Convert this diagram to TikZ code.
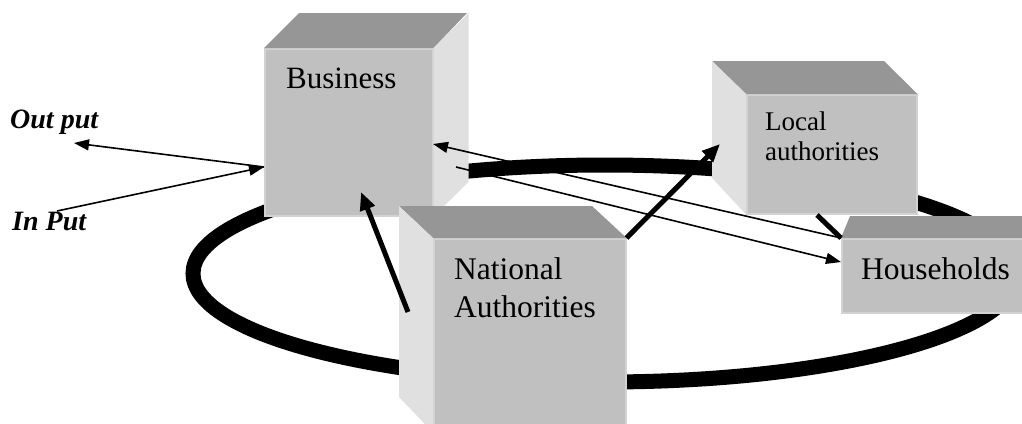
\documentclass[tikz,border=0pt]{standalone}
\usepackage{fontspec}
\setmainfont{Liberation Serif}
\usetikzlibrary{arrows.meta,calc}
\definecolor{faceF}{RGB}{192,192,192}
\definecolor{faceT}{RGB}{150,150,150}
\definecolor{faceS}{RGB}{224,224,224}
\definecolor{edgeL}{RGB}{210,210,210}

\begin{document}
\begin{tikzpicture}[x=1pt, y=-1pt,
  front/.style={rectangle, fill=faceF, draw=edgeL, line width=1.5pt, inner sep=0pt, anchor=north west},
  topf/.style={fill=faceT},
  sidef/.style={fill=faceS},
  ring/.style={line width=15pt},
  link/.style={-{Triangle[length=15pt,width=11pt]}, line width=1.6pt},
  heavy/.style={-{Triangle[length=18pt,width=15pt]}, line width=5pt},
  lbl/.style={inner sep=0pt, anchor=base west, align=left},
  io/.style={inner sep=0pt, anchor=base west, font=\fontsize{28}{30}\selectfont\bfseries\itshape}]

  \useasboundingbox (0,0) rectangle (1022,423);
  \clip (0,0) rectangle (1022,423);

  % the big loop behind all boxes
  \draw[ring] (605,273.5) ellipse [x radius=412, y radius=108.5];

  % Business
  \node[front, minimum width=168, minimum height=167] (biz) at (264,48) {};
  \fill[topf] (biz.north west) -- ++(35,-35) -- ++(168,0) -- (biz.north east) -- cycle;
  \fill[sidef] (biz.north east) -- ++(35,-35) -- ++(0,169) -- (biz.south east) -- cycle;

  % Local authorities
  \node[front, minimum width=170, minimum height=119] (loc) at (746,94) {};
  \fill[topf] (loc.north west) -- ++(-34,-33) -- ++(172,0) -- (loc.north east) -- cycle;
  \fill[sidef] (loc.north west) -- ++(-34,-33) -- ++(0,117) -- (loc.south west) -- cycle;

  % National Authorities
  \node[front, minimum width=192, minimum height=193] (nat) at (433,238) {};
  \fill[topf] (nat.north west) -- ++(-34,-32) -- ++(193,0) -- (nat.north east) -- cycle;
  \fill[sidef] (nat.north west) -- ++(-34,-32) -- ++(0,191) -- (nat.south west) -- cycle;

  % Households
  \node[front, minimum width=200, minimum height=74] (hh) at (841,238) {};
  \fill[topf] (hh.north west) -- ++(9,-22) -- ++(200,0) -- (hh.north east) -- cycle;

  % two-line labels sit on the baseline of their last line
  \node[lbl, font=\fontsize{31}{36}\selectfont] (bizlbl) at (286,88) {Business};
  \node[lbl, font=\fontsize{27}{30}\selectfont] (loclbl) at (765,160) {Local\\authorities};
  \node[lbl, font=\fontsize{31.5}{38}\selectfont] (natlbl) at (454,317) {National\\Authorities};
  \node[lbl, font=\fontsize{31.5}{36}\selectfont] (hhlbl) at (861,279) {Households};
  \node[io] (outlbl) at (10,128) {Out put};
  \node[io] (inlbl) at (12,230) {In Put};

  \coordinate (bizW) at (264,167);
  \coordinate (outEnd) at (74,143);
  \coordinate (inStart) at (57,211);
  \coordinate (bizE) at (433,144);
  \coordinate (bizR) at (456,167);
  \coordinate (hhW) at (841,262);
  \coordinate (natL) at (408,312);
  \coordinate (bizS) at (361,192);
  \coordinate (locW) at (720,144);
  \coordinate (locS) at (817,215);

  \draw[link] (bizW) -- (outEnd);
  \draw[link] (inStart) -- (bizW);
  \draw[link] (hh.north west) -- (bizE);
  \draw[link] (bizR) -- (hhW);
  \draw[heavy] (natL) -- (bizS);
  \draw[heavy] (nat.north east) -- (locW);
  \draw[line width=5pt] (locS) -- (hh.north west);
\end{tikzpicture}
\end{document}
